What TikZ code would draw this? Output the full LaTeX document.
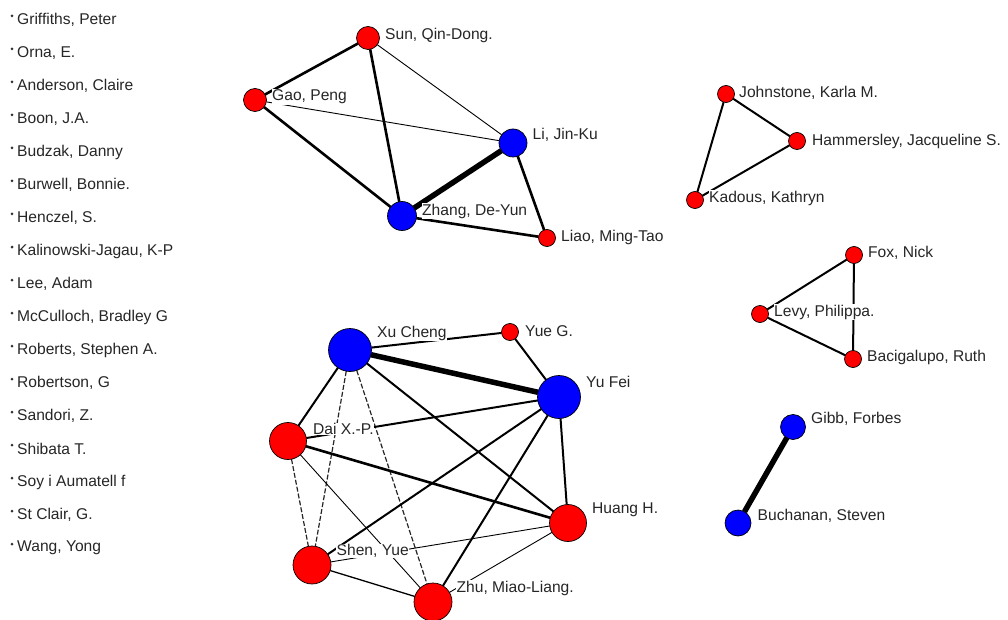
\documentclass[tikz,border=0pt]{standalone}
\usepackage{fontspec}
\setmainfont{Liberation Sans}
\usetikzlibrary{positioning, backgrounds}

\begin{document}
\begin{tikzpicture}[
  x=1pt, y=-1pt,
  vtx/.style={circle, draw=black, line width=0.7pt, inner sep=0pt, outer sep=0pt, minimum size=#1},
  rednode/.style={vtx=#1, fill=red},
  bluenode/.style={vtx=#1, fill=blue},
  dot/.style={circle, fill=black!80, inner sep=0pt, outer sep=0pt, minimum size=3pt},
  lbl/.style={fill=white, inner sep=0.5pt, font=\fontsize{15.6}{17}\selectfont, text=black!85},
  isolbl/.style={lbl, fill=none, xshift=3pt, yshift=-4pt},
  faint/.style={line width=0.9pt},
  dashtie/.style={line width=1.2pt, dash pattern=on 5pt off 2pt, black!85},
  tie/.style={line width=2pt},
  strong/.style={line width=2.6pt},
  heavy/.style={line width=5.5pt},
  node distance=30pt
]

\useasboundingbox (0,0) rectangle (1008,620);

% Isolates (left column)
\node[dot, label={[isolbl]east:Griffiths, Peter}] (griffiths) at (12,16) {};
\node[dot, below=of griffiths, label={[isolbl]east:Orna, E.}] (orna) {};
\node[dot, below=of orna, label={[isolbl]east:Anderson, Claire}] (anderson) {};
\node[dot, below=of anderson, label={[isolbl]east:Boon, J.A.}] (boon) {};
\node[dot, below=of boon, label={[isolbl]east:Budzak, Danny}] (budzak) {};
\node[dot, below=of budzak, label={[isolbl]east:Burwell, Bonnie.}] (burwell) {};
\node[dot, below=of burwell, label={[isolbl]east:Henczel, S.}] (henczel) {};
\node[dot, below=of henczel, label={[isolbl]east:Kalinowski-Jagau, K-P}] (kalinowski) {};
\node[dot, below=of kalinowski, label={[isolbl]east:Lee, Adam}] (lee) {};
\node[dot, below=of lee, label={[isolbl]east:McCulloch, Bradley G}] (mcculloch) {};
\node[dot, below=of mcculloch, label={[isolbl]east:Roberts, Stephen A.}] (roberts) {};
\node[dot, below=of roberts, label={[isolbl]east:Robertson, G}] (robertson) {};
\node[dot, below=of robertson, label={[isolbl]east:Sandori, Z.}] (sandori) {};
\node[dot, below=of sandori, label={[isolbl]east:Shibata T.}] (shibata) {};
\node[dot, below=of shibata, label={[isolbl]east:Soy i Aumatell f}] (soy) {};
\node[dot, below=of soy, label={[isolbl]east:St Clair, G.}] (stclair) {};
\node[dot, below=of stclair, label={[isolbl]east:Wang, Yong}] (wang) {};

% Top cluster
\node[rednode=23pt] (sun) at (368,38) {};
\node[rednode=23pt] (gao) at (255,100) {};
\node[bluenode=28pt] (li) at (513,143) {};
\node[bluenode=29pt] (zhang) at (402,216) {};
\node[rednode=17pt] (liao) at (547,238) {};

% Right clusters
\node[rednode=17pt] (johnstone) at (726,94) {};
\node[rednode=17pt] (hammersley) at (797,141) {};
\node[rednode=17pt] (kadous) at (695,200) {};
\node[rednode=17pt] (fox) at (854,255) {};
\node[rednode=17pt] (levy) at (760,314) {};
\node[rednode=17pt] (bacigalupo) at (853,359) {};
\node[bluenode=25pt] (gibb) at (793,427) {};
\node[bluenode=26pt] (buchanan) at (738,523) {};

% Bottom cluster
\node[bluenode=43pt] (xu) at (350,350) {};
\node[rednode=17pt] (yue) at (510,332) {};
\node[bluenode=43pt] (yufei) at (559,397) {};
\node[rednode=37pt] (dai) at (288,441) {};
\node[rednode=37pt] (huang) at (568,523) {};
\node[rednode=38pt] (shen) at (312,565) {};
\node[rednode=38pt] (zhu) at (433,602) {};

% Ties
\begin{scope}[on background layer]
\draw[strong] (sun) -- (gao);
\draw[strong] (sun) -- (zhang);
\draw[faint] (sun) -- (li);
\draw[faint] (gao) -- (li);
\draw[strong] (gao) -- (zhang);
\draw[heavy] (li) -- (zhang);
\draw[strong] (li) -- (liao);
\draw[strong] (zhang) -- (liao);

\draw[tie] (johnstone) -- (hammersley);
\draw[tie] (johnstone) -- (kadous);
\draw[tie] (hammersley) -- (kadous);
\draw[tie] (fox) -- (levy);
\draw[tie] (fox) -- (bacigalupo);
\draw[tie] (levy) -- (bacigalupo);
\draw[heavy] (gibb) -- (buchanan);

\draw[heavy] (xu) -- (yufei);
\draw[tie] (xu) -- (yue);
\draw[tie] (yue) -- (yufei);
\draw[tie] (xu) -- (dai);
\draw[tie] (xu) -- (huang);
\draw[dashtie] (xu) -- (shen);
\draw[dashtie] (xu) -- (zhu);
\draw[dashtie] (dai) -- (shen);
\draw[faint] (dai) -- (zhu);
\draw[tie] (dai) -- (yufei);
\draw[strong] (dai) -- (huang);
\draw[tie] (yufei) -- (huang);
\draw[tie] (yufei) -- (shen);
\draw[tie] (yufei) -- (zhu);
\draw[faint] (shen) -- (huang);
\draw[line width=1.3pt] (shen) -- (zhu);
\draw[faint] (zhu) -- (huang);
\end{scope}

% Names
\node[lbl, right=5pt of sun, yshift=3pt] (sunlbl) {Sun, Qin-Dong.};
\node[lbl, right=5pt of gao, yshift=3pt] (gaolbl) {Gao, Peng};
\node[lbl, right=5pt of li, yshift=8pt] (lilbl) {Li, Jin-Ku};
\node[lbl, right=5pt of zhang, yshift=5pt] (zhanglbl) {Zhang, De-Yun};
\node[lbl, right=5pt of liao, yshift=1pt] (liaolbl) {Liao, Ming-Tao};

\node[lbl, right=4pt of johnstone, yshift=1pt] (johnstonelbl) {Johnstone, Karla M.};
\node[lbl, right=6pt of hammersley] (hammersleylbl) {Hammersley, Jacqueline S.};
\node[lbl, right=5pt of kadous, yshift=2pt] (kadouslbl) {Kadous, Kathryn};
\node[lbl, right=5pt of fox, yshift=2pt] (foxlbl) {Fox, Nick};
\node[lbl, right=5pt of levy, yshift=2pt] (levylbl) {Levy, Philippa.};
\node[lbl, right=5pt of bacigalupo, yshift=2pt] (bacigalupolbl) {Bacigalupo, Ruth};
\node[lbl, right=5pt of gibb, yshift=8pt] (gibblbl) {Gibb, Forbes};
\node[lbl, right=6pt of buchanan, yshift=7pt] (buchananlbl) {Buchanan, Steven};

\node[lbl, right=5pt of xu, yshift=17pt] (xulbl) {Xu Cheng};
\node[lbl, right=6pt of yue, yshift=1pt] (yuelbl) {Yue G.};
\node[lbl, right=5pt of yufei, yshift=15pt] (yufeilbl) {Yu Fei};
\node[lbl, right=6pt of dai, yshift=12pt] (dailbl) {Dai X.-P.};
\node[lbl, right=5pt of huang, yshift=13pt] (huanglbl) {Huang H.};
\node[lbl, right=5pt of shen, yshift=14pt] (shenlbl) {Shen, Yue};
\node[lbl, right=4pt of zhu, yshift=14pt] (zhulbl) {Zhu, Miao-Liang.};

\end{tikzpicture}
\end{document}
